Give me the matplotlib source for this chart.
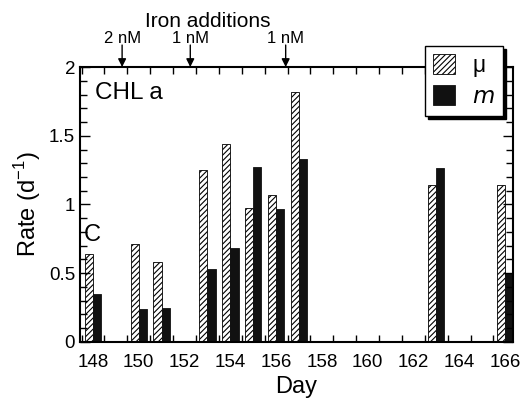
import matplotlib
matplotlib.use("Agg")
from matplotlib import pyplot as plt
from matplotlib.ticker import MultipleLocator
import numpy as np

plt.rcParams['font.family'] = ['Liberation Sans', 'DejaVu Sans']
plt.rcParams['hatch.linewidth'] = 0.8

# Data
days = [148, 150, 151, 153, 154, 155, 156, 157, 163, 166]
mu = [0.64, 0.71, 0.58, 1.25, 1.44, 0.975, 1.07, 1.82, 1.145, 1.14]
m = [0.35, 0.24, 0.25, 0.53, 0.68, 1.27, 0.97, 1.33, 1.265, 0.50]

iron_days = [149.27, 152.25, 156.42]
iron_labels = ['2 nM', '1 nM', '1 nM']

fig = plt.figure(figsize=(5.23, 3.99), dpi=100)
ax = fig.add_axes([0.153, 0.143, 0.828, 0.689])

d = np.array(days)
w = 0.36
ax.bar(d - w/2, mu, w, color='white', edgecolor='black', hatch='//////',
       linewidth=0.6, label='\u03bc')
ax.bar(d + w/2, m, w, color='#111111', edgecolor='#111111', linewidth=0.6,
       label='$m$')

ax.set_xlim(147.43, 166.36)
ax.set_ylim(0, 2)
ax.set_xticks(np.arange(148, 167, 2))
ax.xaxis.set_minor_locator(MultipleLocator(1, offset=0.5))
ax.set_yticks([0, 0.5, 1, 1.5, 2], ['0', '0.5', '1', '1.5', '2'])
ax.yaxis.set_minor_locator(MultipleLocator(0.1))
ax.tick_params(which='both', direction='in', top=True, right=True, labelsize=13.5)
ax.tick_params(axis='x', which='major', length=0, pad=9)
ax.tick_params(which='minor', length=5, width=1)
ax.tick_params(axis='y', which='major', length=7, width=1)
for s in ax.spines.values():
    s.set_linewidth(1.5)

ax.set_xlabel('Day', fontsize=17, labelpad=3)
ax.set_ylabel(r'Rate (d$^{\mathregular{-1}}$)', fontsize=17, labelpad=4)

ax.text(0.035, 0.905, 'CHL a', transform=ax.transAxes, fontsize=17.5, va='center')
ax.text(147.6, 0.78, 'C', fontsize=17, va='center')

for x, lab in zip(iron_days, iron_labels):
    ax.annotate('', xy=(x, 2.0), xytext=(x, 2.16), annotation_clip=False,
                arrowprops=dict(arrowstyle='-|>', color='black', lw=1,
                                mutation_scale=12, shrinkA=0, shrinkB=0))
    ax.text(x, 2.175, lab, ha='center', va='baseline', fontsize=12, clip_on=False)
ax.text(153.0, 2.29, 'Iron additions', ha='center', va='baseline', fontsize=15)

leg = ax.legend(loc='upper right', bbox_to_anchor=(0.977, 1.076), fontsize=16.5,
                frameon=True, fancybox=False, shadow={'color': 'black', 'alpha': 1},
                edgecolor='black', handlelength=0.95, handleheight=0.95,
                borderpad=0.35, labelspacing=0.35, handletextpad=0.75,
                borderaxespad=0)
leg.get_frame().set_linewidth(1.0)
leg.set_zorder(5)

fig.savefig('out.png', dpi=100)
